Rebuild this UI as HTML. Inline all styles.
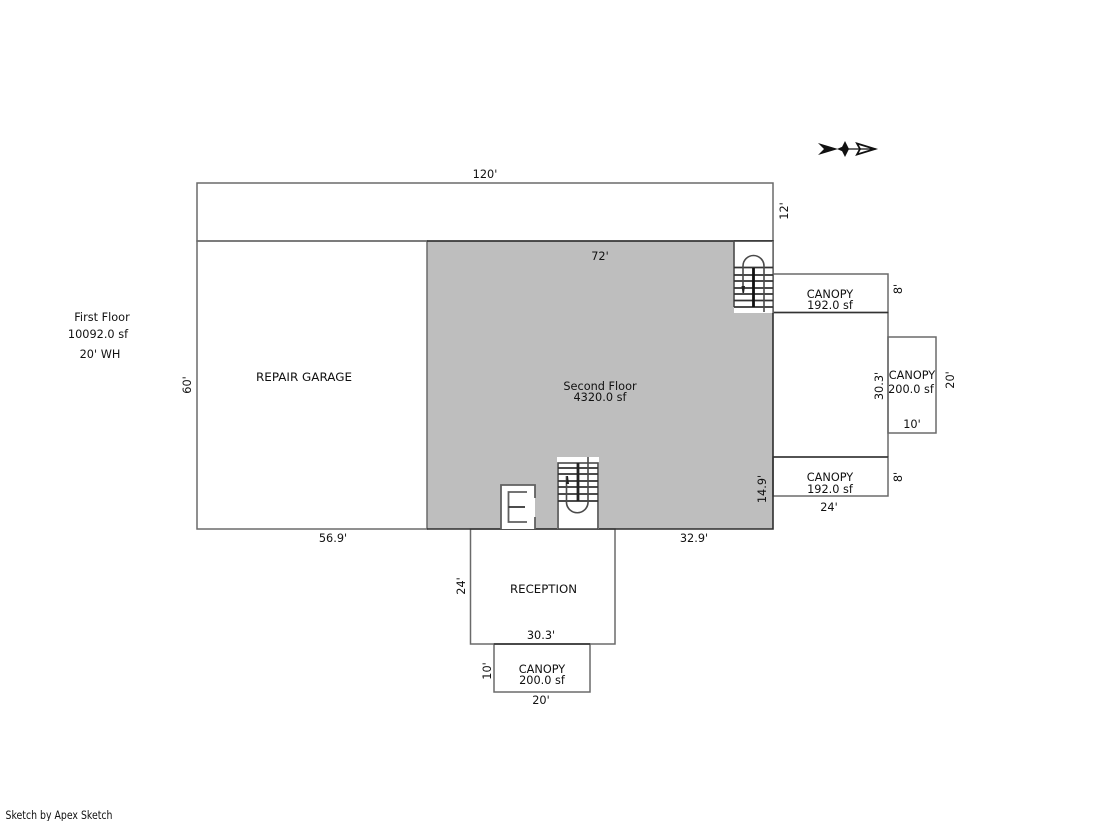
<!DOCTYPE html>
<html>
<head>
<meta charset="utf-8">
<style>
html,body{margin:0;padding:0;background:#fff;width:1119px;height:821px;overflow:hidden}
svg{display:block}
text{font-family:"DejaVu Sans","Liberation Sans",sans-serif;font-size:11.3px;fill:#111;text-anchor:middle}
.l{fill:none;stroke:#6a6a6a;stroke-width:1.5}
.s{stroke:#4a4a4a;stroke-width:1.6;fill:none}
.t{stroke:#333;stroke-width:1.8;fill:none}
</style>
</head>
<body>
<svg width="1119" height="821" viewBox="0 0 1119 821" xmlns="http://www.w3.org/2000/svg">
<rect x="0" y="0" width="1119" height="821" fill="#fff"/>
<!-- gray second floor -->
<rect x="427" y="241" width="346" height="288" fill="#bebebe"/>
<!-- outlines -->
<rect class="l" x="197" y="183" width="576" height="58"/>
<rect class="l" x="197" y="241" width="230" height="288"/>
<rect class="l" x="470.500" y="529" width="144.500" height="115"/>
<rect class="l" x="494" y="644" width="96" height="48"/>
<rect class="l" x="773" y="274" width="115" height="38.500"/>
<rect class="l" x="773" y="457" width="115" height="39"/>
<rect class="l" x="888" y="337" width="48" height="96"/>
<line class="l" x1="888" y1="312" x2="888" y2="457"/>
<path d="M427 241H773V529H427" fill="none" stroke="#2e2e2e" stroke-width="1.600"/>
<line x1="773" y1="312.500" x2="888" y2="312.500" stroke="#333" stroke-width="1.600"/>
<line x1="773" y1="457" x2="888" y2="457" stroke="#333" stroke-width="1.600"/>
<line x1="494" y1="644" x2="590" y2="644" stroke="#333" stroke-width="1.500"/>
<!-- upper right stair -->
<rect x="734" y="241" width="39" height="72" fill="#fff"/>
<path d="M734 241H773" fill="none" stroke="#2e2e2e" stroke-width="1.600"/>
<line class="s" x1="734" y1="241" x2="734" y2="307"/>
<line class="l" x1="773" y1="241" x2="773" y2="313"/>
<g class="t">
<line x1="734" y1="267.500" x2="773" y2="267.500"/>
<line x1="734" y1="275" x2="773" y2="275"/>
<line x1="734" y1="281" x2="773" y2="281"/>
<line x1="734" y1="288" x2="773" y2="288"/>
<line x1="734" y1="294" x2="773" y2="294"/>
<line x1="734" y1="300.500" x2="773" y2="300.500"/>
<line x1="734" y1="307" x2="773" y2="307"/>
</g>
<path class="s" d="M743 288V266A10.500 10.500 0 0 1 764 266V312"/>
<line x1="753.500" y1="268" x2="753.500" y2="307" stroke="#111" stroke-width="2.800"/>
<polygon points="741.500,286 745,286 744,293 742.500,293" fill="#222"/>
<!-- bottom stair -->
<rect x="557" y="457" width="42" height="72" fill="#fff"/>
<rect class="s" x="558" y="463" width="40" height="66"/>
<g class="t">
<line x1="558" y1="468" x2="598" y2="468"/>
<line x1="558" y1="474" x2="598" y2="474"/>
<line x1="558" y1="481" x2="598" y2="481"/>
<line x1="558" y1="487" x2="598" y2="487"/>
<line x1="558" y1="494" x2="598" y2="494"/>
<line x1="558" y1="501" x2="598" y2="501"/>
</g>
<path class="s" d="M566.500 476V503A10.800 10.800 0 0 0 588 503V457"/>
<line x1="578" y1="463" x2="578" y2="501" stroke="#222" stroke-width="2.800"/>
<polygon points="566,484 569,484 568,476 567,476" fill="#222"/>
<!-- elevator -->
<rect x="501" y="485" width="34" height="44" fill="#fff"/>
<path d="M535 498V485H501V529" fill="none" stroke="#606060" stroke-width="1.800"/>
<path d="M535 517V529" fill="none" stroke="#606060" stroke-width="1.800"/>
<path d="M527 492H508.500V522H527" fill="none" stroke="#606060" stroke-width="1.800"/>
<path d="M508.500 507H525" fill="none" stroke="#333" stroke-width="1.800"/>
<!-- north arrow -->
<g>
<polygon points="818,143 838,149 818,155 824,149" fill="#111"/>
<polygon points="837,149 844,146 844,152" fill="#111"/>
<polygon points="845,141 849,149 845,157 841,149" fill="#111"/>
<polygon points="857,143.500 875,149 857,154.500 860,149" fill="#fff" stroke="#111" stroke-width="1.800"/>
<line x1="848" y1="149" x2="876" y2="149" stroke="#111" stroke-width="1.200"/>
</g>
<!-- labels -->
<text x="485" y="178">120'</text>
<text x="600" y="260">72'</text>
<text transform="translate(788,211) rotate(-90)">12'</text>
<text transform="translate(191,385) rotate(-90)">60'</text>
<text x="304" y="381" textLength="96" lengthAdjust="spacingAndGlyphs">REPAIR GARAGE</text>
<text x="600" y="390">Second Floor</text>
<text x="600" y="401">4320.0 sf</text>
<text x="830" y="298">CANOPY</text>
<text x="830" y="309">192.0 sf</text>
<text x="830" y="481">CANOPY</text>
<text x="830" y="493">192.0 sf</text>
<text transform="translate(902,289) rotate(-90)">8'</text>
<text transform="translate(902,477) rotate(-90)">8'</text>
<text x="912" y="379">CANOPY</text>
<text x="911" y="393">200.0 sf</text>
<text x="912" y="428">10'</text>
<text transform="translate(954,380) rotate(-90)">20'</text>
<text transform="translate(883,386) rotate(-90)">30.3'</text>
<text transform="translate(766,489) rotate(-90)">14.9'</text>
<text x="829" y="511">24'</text>
<text x="333" y="542">56.9'</text>
<text x="694" y="542">32.9'</text>
<text transform="translate(465,586) rotate(-90)">24'</text>
<text x="543.500" y="593" textLength="67" lengthAdjust="spacingAndGlyphs">RECEPTION</text>
<text x="541" y="639">30.3'</text>
<text x="542" y="673">CANOPY</text>
<text x="542" y="684">200.0 sf</text>
<text transform="translate(491,671) rotate(-90)">10'</text>
<text x="541" y="704">20'</text>
<text x="102" y="321">First Floor</text>
<text x="98" y="338">10092.0 sf</text>
<text x="100" y="358">20' WH</text>
<text x="59" y="819" textLength="107" lengthAdjust="spacingAndGlyphs">Sketch by Apex Sketch</text>
</svg>
</body>
</html>
